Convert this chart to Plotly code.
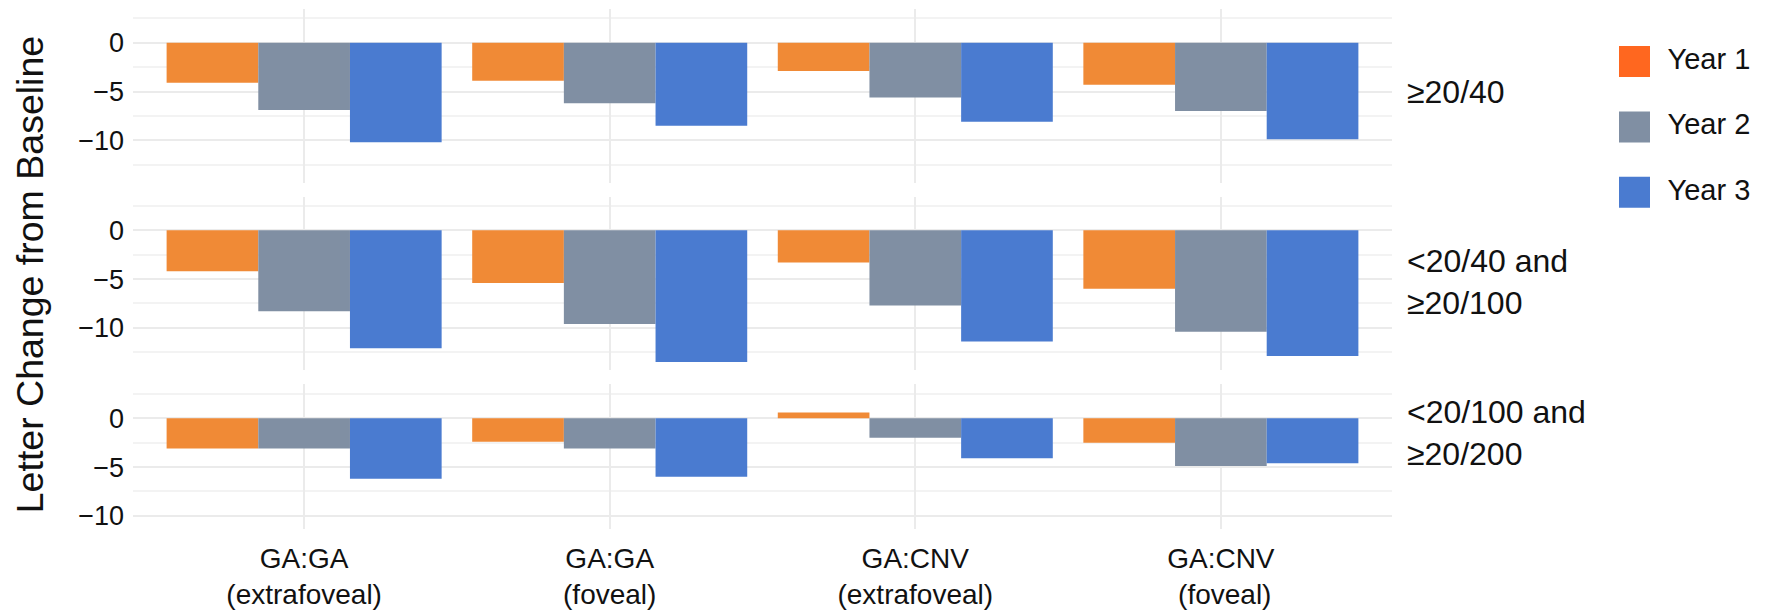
import plotly.graph_objects as go

# ---------------- data ----------------
categories = ["GA:GA<br>(extrafoveal)", "GA:GA<br>(foveal)",
              "GA:CNV<br>(extrafoveal)", "GA:CNV<br> (foveal)"]
series = ["Year 1", "Year 2", "Year 3"]
panel_labels = ["≥20/40", "<20/40 and<br>≥20/100", "<20/100 and<br>≥20/200"]
y_tick_vals = [0, -5, -10]
y_tick_text = ["0", "−5", "−10"]

p1_year1 = [-4.1, -3.9, -2.9, -4.3]
p1_year2 = [-6.9, -6.2, -5.6, -7.0]
p1_year3 = [-10.2, -8.5, -8.1, -9.9]

p2_year1 = [-4.2, -5.4, -3.3, -6.0]
p2_year2 = [-8.3, -9.6, -7.7, -10.4]
p2_year3 = [-12.1, -13.5, -11.4, -12.9]

p3_year1 = [-3.1, -2.4, 0.6, -2.5]
p3_year2 = [-3.1, -3.1, -2.0, -4.9]
p3_year3 = [-6.2, -6.0, -4.1, -4.6]

panels = [
    [p1_year1, p1_year2, p1_year3],
    [p2_year1, p2_year2, p2_year3],
    [p3_year1, p3_year2, p3_year3],
]

# ---------------- style / layout ----------------
bar_colors = ["#F08A36", "#808FA3", "#4A7BD0"]
legend_colors = ["#FF671F", "#808FA3", "#4A7BD0"]
FONT = "Liberation Sans, Arial, Helvetica, sans-serif"
TXT = "#111111"
GRID_MAJOR = "#EBEBEB"
GRID_MINOR = "#F3F3F3"

PAGE_OFF = 8                     # default page margin of the html body
W, H = 1779 - PAGE_OFF, 615 - PAGE_OFF
ML, MR = 133 - PAGE_OFF, 0
MT = 8.5 - PAGE_OFF
PLOT_BOTTOM = 529 - PAGE_OFF
MB = H - PLOT_BOTTOM
plot_w = W - ML - MR
plot_h = H - MT - MB


def sx(px):  # screen x -> paper x
    return (px - PAGE_OFF - ML) / plot_w


def sy(py):  # screen y -> paper y
    return (PLOT_BOTTOM - (py - PAGE_OFF)) / plot_h


x_dom = [0, sx(1392)]
y_domains = [[sy(182.4), sy(8.6)], [sy(370.1), sy(196.3)], [0.0, sy(384.0)]]
y_ranges = [[-14.35, 3.45], [-14.35, 3.45], [-11.35, 3.5]]

fig = go.Figure()

for pi, pdata in enumerate(panels):
    ax = "" if pi == 0 else str(pi + 1)
    for si, vals in enumerate(pdata):
        fig.add_trace(go.Bar(
            x=categories, y=vals, name=series[si],
            marker=dict(color=bar_colors[si], line=dict(width=0)),
            xaxis="x" + ax, yaxis="y" + ax, showlegend=False,
            offsetgroup=str(si),
        ))

layout = dict(
    width=W, height=H,
    margin=dict(l=ML, r=MR, t=MT, b=MB, autoexpand=False),
    paper_bgcolor="white", plot_bgcolor="white",
    barmode="group", bargap=0.1, bargroupgap=0,
    font=dict(family=FONT, color=TXT),
    showlegend=False,
)

for pi in range(3):
    ax = "" if pi == 0 else str(pi + 1)
    layout["xaxis" + ax] = dict(
        domain=x_dom, anchor="y" + ax, type="category",
        categoryorder="array", categoryarray=categories,
        range=[-0.56, 3.56], showgrid=True, gridcolor=GRID_MAJOR, gridwidth=2,
        zeroline=False, showline=False, ticks="",
        showticklabels=(pi == 2),
        tickfont=dict(size=28, family=FONT, color=TXT),
        ticklabelstandoff=10,
        automargin=False,
    )
    layout["yaxis" + ax] = dict(
        domain=[max(0.0, y_domains[pi][0]), min(1.0, y_domains[pi][1])],
        anchor="x" + ax, range=y_ranges[pi],
        tickmode="array", tickvals=y_tick_vals, ticktext=y_tick_text,
        showgrid=True, gridcolor=GRID_MAJOR, gridwidth=2,
        minor=dict(tickmode="array", tickvals=[2.5, -2.5, -7.5, -12.5],
                   showgrid=True, gridcolor=GRID_MINOR, gridwidth=2),
        zeroline=False, showline=False, ticks="",
        tickfont=dict(size=27, family=FONT, color=TXT),
        ticklabelstandoff=8,
        automargin=False,
    )

# custom legend axes (large square keys)
leg_x0 = 1619
layout["xaxis4"] = dict(domain=[sx(leg_x0), 1.0], anchor="y4",
                        range=[-15.5, -15.5 + (1779 - leg_x0)], visible=False)
layout["yaxis4"] = dict(domain=[sy(230), sy(20)], anchor="x4",
                        range=[2.58, -0.626], visible=False)

fig.add_trace(go.Scatter(
    x=[0] * len(series), y=list(range(len(series))), mode="markers",
    marker=dict(symbol="square", size=31, color=legend_colors, line=dict(width=0)),
    xaxis="x4", yaxis="y4", showlegend=False, hoverinfo="skip",
))
fig.add_trace(go.Scatter(
    x=[33] * len(series), y=list(range(len(series))), mode="text",
    text=series, textposition="middle right",
    textfont=dict(size=29, family=FONT, color=TXT),
    xaxis="x4", yaxis="y4", showlegend=False, hoverinfo="skip",
))

# facet strip labels on the right
strip_y_px = [92, 281.7, 433.3]
annotations = []
for lab, ypx in zip(panel_labels, strip_y_px):
    annotations.append(dict(
        text=lab, xref="paper", yref="paper",
        x=sx(1405), y=sy(ypx),
        xanchor="left", yanchor="middle", align="left", showarrow=False,
        font=dict(size=32, family=FONT, color=TXT),
    ))

# y-axis title
annotations.append(dict(
    text="Letter Change from Baseline", xref="paper", yref="paper",
    x=sx(30), y=sy(275), textangle=-90,
    xanchor="center", yanchor="middle", showarrow=False,
    font=dict(size=37.5, family=FONT, color=TXT),
))
layout["annotations"] = annotations

fig.update_layout(**layout)
fig.write_html("out.html")
